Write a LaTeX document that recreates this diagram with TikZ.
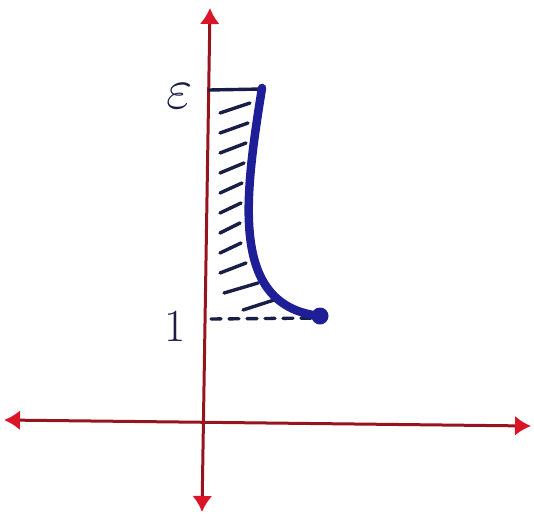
\documentclass[tikz,border=0pt]{standalone}
\usepackage{amsmath}
\usepackage{tikz}
\usetikzlibrary{arrows.meta}

\definecolor{axisred}{RGB}{150,20,30}
\definecolor{tipred}{RGB}{220,20,40}
\definecolor{inkblue}{RGB}{30,30,150}
\definecolor{inkdark}{RGB}{25,30,70}

\begin{document}
\begin{tikzpicture}[
  x=1pt, y=-1pt,
  axis/.style={axisred, line width=3pt,
               {Latex[length=16pt, width=20pt, color=tipred]}-{Latex[length=16pt, width=20pt, color=tipred]}},
  hatch/.style={inkdark, line width=3.4pt, line cap=round},
  graph/.style={inkblue, line width=8.5pt, line cap=round},
  lbl/.style={inkdark, font=\fontsize{34}{34}\selectfont, inner sep=0pt}
]
\useasboundingbox (0,0) rectangle (534,517);

%
%  Layout (pixels, y downwards):
%
%  vertical axis   x ~ 205, from y 10 to 510
%  horizontal axis y ~ 423, from x 5 to 530
%  region between the axis and the curve, y 90 .. 318
%

% --- axes ---
\coordinate (ytop) at (210, 8);
\coordinate (ybot) at (202, 512);
\coordinate (xlft) at (4, 420);
\coordinate (xrgt) at (531, 426);
\draw[axis] (ybot) -- (ytop);
\draw[axis] (xlft) -- (xrgt);

% --- bounds of the region ---
\coordinate (top0) at (209, 90);
\coordinate (top1) at (262, 89);
\coordinate (bot0) at (211, 319);
\coordinate (bot1) at (318, 318);
\draw[hatch] (top0) -- (top1);
\draw[hatch, dash pattern=on 10pt off 8pt] (bot0) -- (bot1);

% --- hatching ---
\foreach \y/\xa/\xb in {108/220/250, 128/220/248, 148/220/246, 168/220/244,
                        188/220/242, 208/220/241, 228/220/240, 248/220/241,
                        268/220/246, 288/224/258, 305/243/274}
  \draw[hatch] (\xa, \y+5) -- (\xb, \y-5);

% --- curve ---
\coordinate (cstart) at (262, 88);
\coordinate (cend) at (320, 316);
\draw[graph] (cstart) .. controls (244, 200) and (230, 306) .. (cend);
\fill[inkblue] (cend) circle (8.5pt);

% --- labels ---
\node[lbl] (eps) at (180, 96) {\scalebox{2.3}{$\varepsilon$}};
\node[lbl, font=\fontsize{46}{46}\selectfont] (one) at (175, 326) {1};

\end{tikzpicture}
\end{document}
